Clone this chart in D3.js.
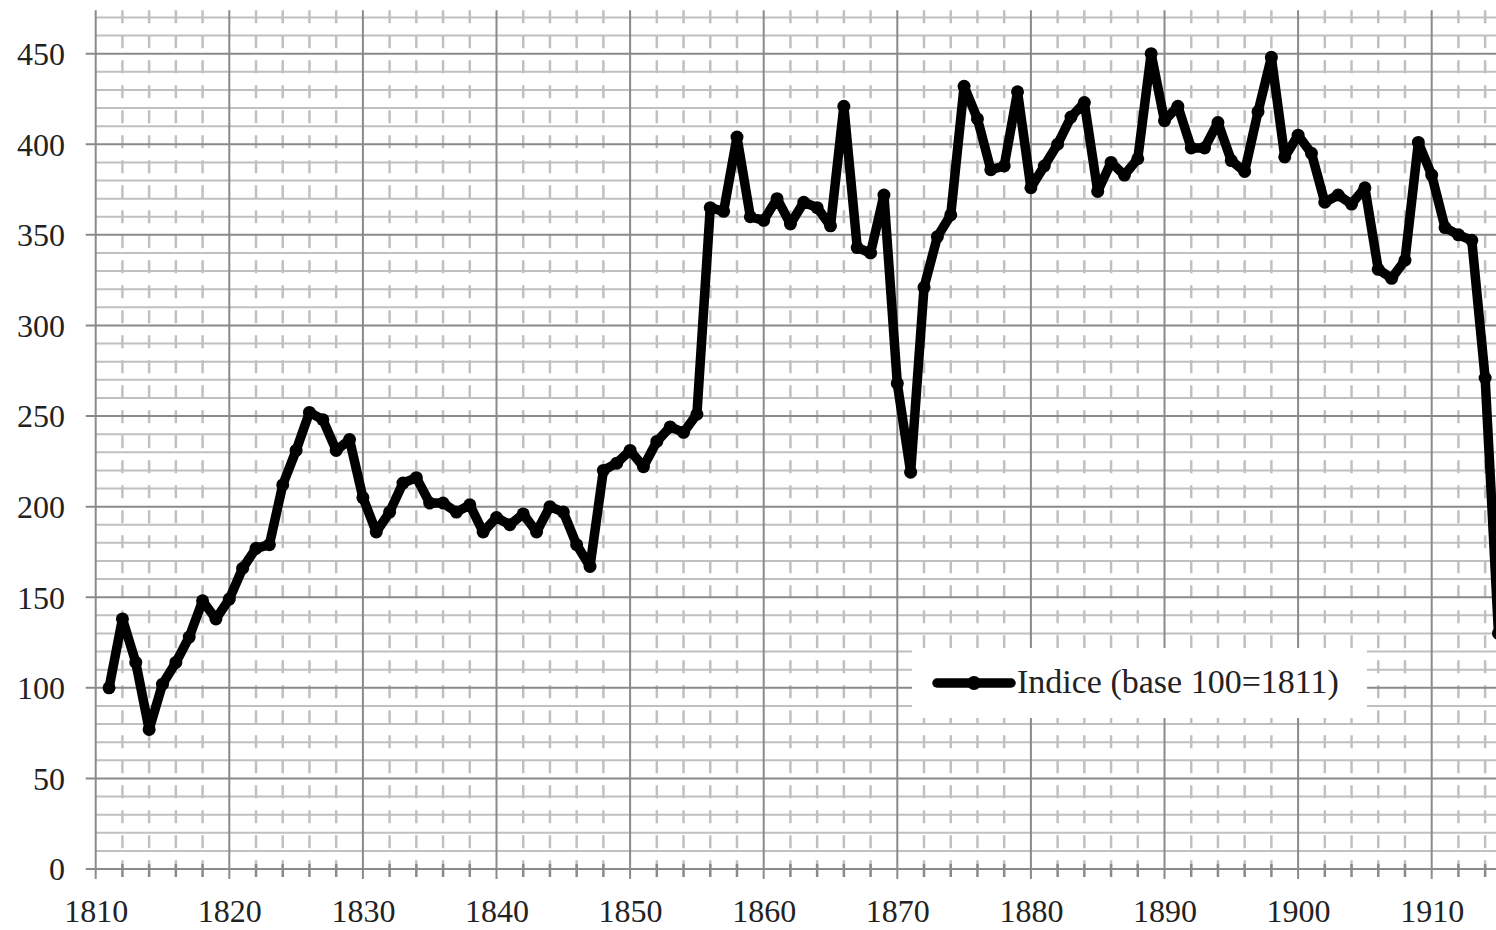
<!DOCTYPE html>
<html>
<head>
<meta charset="utf-8">
<script src="https://cdn.jsdelivr.net/npm/d3@7"></script>
<style>
  html, body { margin: 0; padding: 0; background: #fff; overflow: hidden; }
  text { font-family: "Liberation Serif", "DejaVu Serif", serif; fill: #222; }
</style>
</head>
<body>
<div id="chart"></div>
<script>
// ---------------- data
const years = [1811,1812,1813,1814,1815,1816,1817,1818,1819,1820,
  1821,1822,1823,1824,1825,1826,1827,1828,1829,1830,
  1831,1832,1833,1834,1835,1836,1837,1838,1839,1840,
  1841,1842,1843,1844,1845,1846,1847,1848,1849,1850,
  1851,1852,1853,1854,1855,1856,1857,1858,1859,1860,
  1861,1862,1863,1864,1865,1866,1867,1868,1869,1870,
  1871,1872,1873,1874,1875,1876,1877,1878,1879,1880,
  1881,1882,1883,1884,1885,1886,1887,1888,1889,1890,
  1891,1892,1893,1894,1895,1896,1897,1898,1899,1900,
  1901,1902,1903,1904,1905,1906,1907,1908,1909,1910,
  1911,1912,1913,1914,1915]

const indice = [100,138,114,77,102,114,128,148,138,149,
  166,177,179,212,231,252,248,231,237,205,
  186,197,213,216,202,202,197,201,186,194,
  190,196,186,200,197,179,167,220,224,231,
  222,236,244,241,251,365,363,404,360,358,
  370,356,368,365,355,421,343,340,372,268,
  219,321,349,361,432,414,386,388,429,376,
  388,400,415,423,374,390,383,392,450,413,
  421,398,398,412,391,385,418,448,393,405,
  395,368,372,367,376,331,326,336,401,383,
  354,350,347,271,130]

const xTicks = [1810,1820,1830,1840,1850,1860,1870,1880,1890,1900,1910]
const yTicks = [0,50,100,150,200,250,300,350,400,450]
const seriesName = "Indice (base 100=1811)"

// ---------------- dimensions
const dims = {
  width: 1496,
  height: 930,
  plotLeft: 95.7,
  plotRight: 1498.5,
  plotTop: 10.2,
  plotBottom: 869
}

const svg = d3.select("#chart")
  .append("svg")
  .attr("width", dims.width)
  .attr("height", dims.height)

// ---------------- scales
const x = d3.scaleLinear()
  .domain([1810, 1915])
  .range([dims.plotLeft, dims.plotRight])

const y = d3.scaleLinear()
  .domain([0, 474])
  .range([dims.plotBottom, dims.plotTop])

const minorGrey = "#c0c0c0"
const majorGrey = "#8a8a8a"

// ---------------- grid
const grid = svg.append("g")

// minor horizontal lines every 10
const minorY = y.ticks(48).filter(v => v % 50 !== 0)
grid.selectAll(".minorH")
  .data(minorY)
  .join("line")
  .attr("x1", dims.plotLeft).attr("x2", dims.plotRight)
  .attr("y1", d => y(d)).attr("y2", d => y(d))
  .attr("stroke", minorGrey).attr("stroke-width", 2)

// minor vertical dashes every 2 years
const minorX = d3.range(1812, 1916, 2).filter(v => v % 10 !== 0)
grid.selectAll(".minorV")
  .data(minorX)
  .join("line")
  .attr("x1", d => x(d)).attr("x2", d => x(d))
  .attr("y1", dims.plotTop).attr("y2", dims.plotBottom)
  .attr("stroke", minorGrey).attr("stroke-width", 2.5)
  .attr("stroke-dasharray", "13,12")

// minor ticks under the axis
grid.selectAll(".minorTick")
  .data(minorX)
  .join("line")
  .attr("x1", d => x(d)).attr("x2", d => x(d))
  .attr("y1", dims.plotBottom - 5).attr("y2", dims.plotBottom + 8)
  .attr("stroke", majorGrey).attr("stroke-width", 2.5)

// major horizontal lines every 50 (with ticks on the left)
grid.selectAll(".majorH")
  .data(yTicks)
  .join("line")
  .attr("x1", dims.plotLeft - 10).attr("x2", dims.plotRight)
  .attr("y1", d => y(d)).attr("y2", d => y(d))
  .attr("stroke", majorGrey).attr("stroke-width", 2)

// major vertical lines every 10 years (with ticks below)
grid.selectAll(".majorV")
  .data(xTicks)
  .join("line")
  .attr("x1", d => x(d)).attr("x2", d => x(d))
  .attr("y1", dims.plotTop).attr("y2", dims.plotBottom + 10)
  .attr("stroke", majorGrey).attr("stroke-width", 2)

// ---------------- axis labels
const xAxis = d3.axisBottom(x)
  .tickValues(xTicks)
  .tickSize(0)
  .tickPadding(0)
  .tickFormat(d3.format("d"))

svg.append("g")
  .attr("transform", `translate(0, 922)`)
  .call(xAxis)
  .call(g => g.select(".domain").remove())
  .selectAll("text")
  .attr("dy", 0)
  .attr("font-size", 32)
  .attr("font-family", "Liberation Serif, serif")
  .attr("fill", "#222")

const yAxis = d3.axisLeft(y)
  .tickValues(yTicks)
  .tickSize(0)
  .tickPadding(0)

svg.append("g")
  .attr("transform", `translate(65, 0)`)
  .call(yAxis)
  .call(g => g.select(".domain").remove())
  .selectAll("text")
  .attr("dy", "0.34em")
  .attr("font-size", 32)
  .attr("font-family", "Liberation Serif, serif")
  .attr("fill", "#222")

// ---------------- series
const points = years.map((yr, i) => ({ year: yr, value: indice[i] }))

const lineGenerator = d3.line()
  .x(d => x(d.year))
  .y(d => y(d.value))

svg.append("path")
  .datum(points)
  .attr("d", lineGenerator)
  .attr("fill", "none")
  .attr("stroke", "#000")
  .attr("stroke-width", 9.5)
  .attr("stroke-linejoin", "round")
  .attr("stroke-linecap", "round")

svg.append("g")
  .selectAll("circle")
  .data(points)
  .join("circle")
  .attr("cx", d => x(d.year))
  .attr("cy", d => y(d.value))
  .attr("r", 6.5)
  .attr("fill", "#000")

// ---------------- legend
const legend = svg.append("g")

legend.append("rect")
  .attr("x", 912).attr("y", 648)
  .attr("width", 455).attr("height", 70)
  .attr("fill", "#fff")

legend.append("line")
  .attr("x1", 937).attr("x2", 1011)
  .attr("y1", 683).attr("y2", 683)
  .attr("stroke", "#000")
  .attr("stroke-width", 9.5)
  .attr("stroke-linecap", "round")

legend.append("circle")
  .attr("cx", 974).attr("cy", 683)
  .attr("r", 7)
  .attr("fill", "#000")

legend.append("text")
  .attr("x", 1017).attr("y", 693)
  .attr("font-size", 34)
  .text(seriesName)
</script>
</body>
</html>
